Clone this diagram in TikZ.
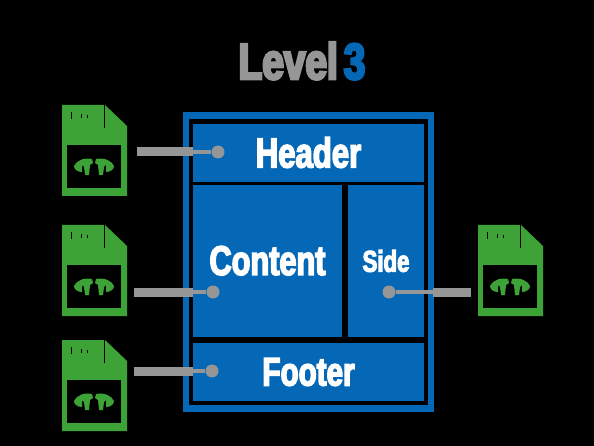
\documentclass[tikz,border=0pt]{standalone}
\usepackage{fontspec}
\setmainfont{Liberation Sans}
\newfontfamily\impfont{Liberation Sans Bold}[FakeStretch=0.74,FakeBold=3.5]
\newfontfamily\titlefont{Liberation Sans Bold}[FakeStretch=0.76,FakeBold=5]
\definecolor{bluemain}{RGB}{4,104,182}
\definecolor{greenicon}{RGB}{62,163,54}
\definecolor{greyline}{RGB}{150,150,150}
\tikzset{
  x=1pt,y=-1pt,
  panel/.style={fill=bluemain,draw=none,inner sep=0pt,text=white,font=\impfont},
  port/.style={circle,fill=greyline,draw=none,minimum size=13pt,inner sep=0pt},
  thickwire/.style={draw=greyline,line width=9pt},
  thinwire/.style={draw=greyline,line width=4.5pt},
  pics/fileicon/.style={code={
    \fill[greenicon] (0,0) -- (43,0) -- (65,21) -- (65,91) -- (0,91) -- cycle;
    \draw[black,line width=0.9pt] (42.5,0) -- (42.5,23);
    \draw[black,line width=0.6pt] (9,7) -- (9,14) (19,9) -- (19,13) (25,10) -- (25,13);
    \fill[black] (5,40) rectangle (59,83);
    \fill[greenicon] (12,61) .. controls (14,56) and (22,52) .. (30,54) -- (31,58) -- (28,60) -- (27,70) -- (23,70) -- (22,62) -- (20,60) -- (20,67) .. controls (15,67) and (12,64) .. (12,61) -- cycle;
    \fill[greenicon] (52,61) .. controls (50,56) and (42,52) .. (34,54) -- (33,58) -- (36,60) -- (37,70) -- (41,70) -- (42,62) -- (44,60) -- (44,67) .. controls (49,67) and (52,64) .. (52,61) -- cycle;
  }}
}
\begin{document}
\begin{tikzpicture}
\useasboundingbox (0,0) rectangle (594,446);
\fill[black] (0,0) rectangle (594,446);
% title
\node[inner sep=0pt,font=\titlefont\fontsize{51}{51}\selectfont,text=greyline] (title) at (302,61) {Level\hspace{6pt}\textcolor{bluemain}{3}};
% frame
\node[draw=bluemain,line width=6.5pt,fill=black,minimum width=245pt,minimum height=293pt,inner sep=0pt] (frame) at (308.5,262) {};
% panels
\node[panel,minimum width=231pt,minimum height=58pt,font=\impfont\fontsize{42}{42}\selectfont] (header) at (308.5,153) {\raisebox{1.5pt}{Header}};
\node[panel,minimum width=149pt,minimum height=152pt,font=\impfont\fontsize{41.5}{41.5}\selectfont] (content) at (267.5,261) {\raisebox{1pt}{Content}};
\node[panel,minimum width=76pt,minimum height=152pt,font=\impfont\fontsize{30}{30}\selectfont] (side) at (386,261) {Side};
\node[panel,minimum width=231pt,minimum height=58pt,font=\impfont\fontsize{40}{40}\selectfont] (footer) at (308.5,372) {Footer};
% icons
\pic at (62,105) {fileicon};
\pic at (62,225) {fileicon};
\pic at (62,340) {fileicon};
\pic at (478,225) {fileicon};
% connector anchors
\coordinate (a1) at (137,152); \coordinate (b1) at (193,152);
\coordinate (a2) at (134,292); \coordinate (b2) at (193,292);
\coordinate (a3) at (134,371); \coordinate (b3) at (193,371);
\coordinate (a4) at (471,292); \coordinate (b4) at (433,292);
\node[port] (d1) at (218,152) {};
\node[port] (d2) at (213,292) {};
\node[port] (d3) at (212,371) {};
\node[port] (d4) at (389,292) {};
\draw[thickwire] (a1) -- (b1);
\draw[thinwire] (b1) -- (d1);
\draw[thickwire] (a2) -- (b2);
\draw[thinwire] (b2) -- (d2);
\draw[thickwire] (a3) -- (b3);
\draw[thinwire] (b3) -- (d3);
\draw[thickwire] (a4) -- (b4);
\draw[thinwire] (b4) -- (d4);
\end{tikzpicture}
\end{document}
